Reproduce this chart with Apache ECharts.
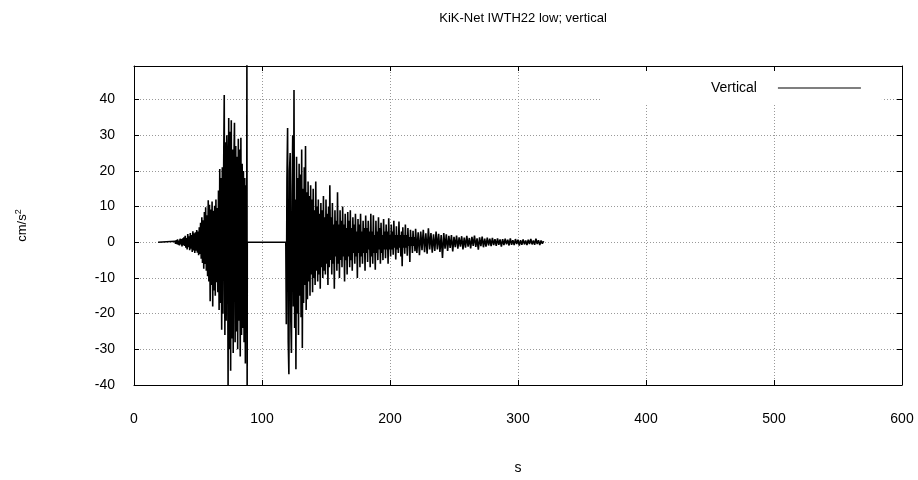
<!DOCTYPE html>
<html>
<head>
<meta charset="utf-8">
<title>KiK-Net IWTH22 low; vertical</title>
<script src="https://cdn.jsdelivr.net/npm/echarts@6/dist/echarts.min.js"></script>
<style>
  html, body { margin: 0; padding: 0; background: #fff; }
  #chart { width: 918px; height: 480px; }
</style>
</head>
<body>
<div id="chart"></div>
<script>
// values (cm/s^2)
const xTicks = [0, 100, 200, 300, 400, 500, 600]
const yTicks = [-40, -30, -20, -10, 0, 10, 20, 30, 40]

// quiet record before the first arrival
const leadIn = [[18.8, 0]]

// first wave train, one sample every 0.5 s from 32 s
const burst1Start = 32
const burst1Step = 0.5
const burst1 = [
  0.3, -0.4, 0.6, -0.5, 0.8, -0.7, 0.5, -0.9, 1.0, -0.6,
  0.9, -1.2, 1.1, -0.8, 1.4, -1.0, 1.8, -1.5, 1.2, -2.0,
  2.3, -1.4, 1.7, -2.2, 2.6, -1.8, 2.0, -2.7, 3.1, -2.3,
  2.5, -3.0, 2.8, -2.4, 3.4, -2.9, 3.0, -3.6, 4.2, -3.3,
  5.5, -4.6, 7.0, -5.8, 6.2, -7.4, 8.5, -6.1, 9.8, -8.0,
  7.6, -9.5, 11.8, -11.0, 10.5, -16.5, 9.2, -12.0, 11.4, -18.0,
  8.8, -13.5, 10.2, -15.0, 12.0, -11.2, 9.6, -14.0, 14.5, -19.0,
  20.5, -17.0, 18.0, -24.5, 21.0, -20.0, 19.0, 41.3, -26.0, 28.0,
  -22.0, 30.0, 22.0, -40.5, 34.8, -30.0, 31.0, -36.0, 34.2, -27.0,
  26.0, -31.0, 22.0, 33.5, -28.0, 27.0, -25.0, 24.0, -30.0, 29.0,
  -22.0, 26.0, -32.0, 29.3, -26.0, 22.0, -24.0, 20.0, -28.0, 18.0,
  -34.0, 16.0, -20.0
]

// clipped glitch at the end of the first record, then a flat gap
const glitch = [[88.2, 55], [88.4, -45]]
const gap = [[88.5, 0], [118.6, 0]]

// second wave train, strong part: one sample every 0.5 s from 119 s
const burst2Start = 119
const burst2Step = 0.5
const burst2 = [
  -23, 18, 32, -28, -37, 20, 25, -22, -31, 14,
  30, -18, 42.7, -24, 12, -35.6, 24, -20, 18, -26,
  22, -15, 19, -21, 26, -29.6, 15, -17, 21, -12,
  27, -19, 14, -16, 17, -11, 13, -15, 16, -9,
  12, -14, 15, -10, 9, -12, 17, -8, 10, -11,
  12, -9, 8, -13, 11, -7, 9, -10, 13, -8,
  7, -9, 12, -6, 8, -12, 10, -7, 16, -5,
  7, -9, 11, -6, 5, -13, 9, -4, 6, -8,
  14, -6, 5, -10, 9, -5, 6, -7, 10, -4,
  5, -11, 8, -5, 4, -9, 8.5, -4, 6, -7,
  9, -5, 4, -8, 7, -3, 5, -6, 8, -4,
  3, -10, 6.5, -3, 5, -7, 8, -4, 3, -6,
  6, -3, 4, -8, 7.5, -3, 4, -5.5, 6, -2,
  3, -7, 8, -4, 3, -6, 7.6, -3, 2, -7.7,
  6, -3, 3, -5, 7, -2, 4, -6, 5.5, -3,
  2, -5, 6.5, -2, 3, -4.5, 5, -2, 3, -6,
  6.7, -2, 2, -4, 5, -2, 3, -3.5, 6, -1.5,
  2, -4.8, 4.5, -2, 2, -3, 5.8, -1.5, 2, -4,
  3, -6.7, 4.2, -1.5, 2, -3.2, 5, -1.5, 2, -3.8,
  4, -1, 1.5, -5.5, 3.5, -1, 1.5, -3, 3.2, -1,
  1.5, -2.5
]

// coda: one sample per second from 220 s
const codaStart = 220
const codaStep = 1
const coda = [
  3.8, -3, 2.8, -3.6, 3, -2.2, 3.5, -2.8, 2.5,
  -3.2, 3.9, -2, 2.6, -2.9, 2.2, -2.4, 3, -2, 2.4,
  -2.7, 2, -4.4, 2.6, -1.8, 2.2, -2.4, 1.8, -1.6, 2,
  -2.6, 1.5, -1.4, 1.9, -1.8, 1.4, -1.2, 1.7, -2, 1.3,
  -1.5, 1.8, -1.2, 1.2, -1.7, 1.5, -1, 1.9, -1.3, 1.1,
  -2.1, 1.4, -1.1, 1.6, -1.4, 1, -1.2, 1.3, -0.9, 1,
  -1.1, 1.2, -0.8, 0.9, -1, 1.1, -0.7, 0.8, -1.2, 0.9,
  -0.8, 1, -0.6, 0.7, -0.9, 1.1, -0.7, 0.6, -0.8, 0.9,
  -0.5, 0.7, -0.9, 0.6, -0.7, 0.8, -0.6, 0.5, -0.8, 0.7,
  -0.5, 0.9, -0.6, 0.5, -0.7, 1, -0.5, 0.6, -0.8, 0.5,
  -0.4, 0.3
]

const yMin = -40
const yMax = 49.4

const trace = [].concat(
  leadIn,
  burst1.map((v, i) => [burst1Start + i * burst1Step, v]),
  glitch,
  gap,
  burst2.map((v, i) => [burst2Start + i * burst2Step, v]),
  coda.map((v, i) => [codaStart + i * codaStep, v])
)

const font = 'Liberation Sans'
const gridLine = { show: true, lineStyle: { color: '#999', width: 1, type: [1, 2] } }
const frame = { show: true, onZero: false, lineStyle: { color: '#000', width: 1 } }
const innerTick = { show: true, inside: true, length: 5, lineStyle: { color: '#000' } }

const chart = echarts.init(document.getElementById('chart'))

chart.setOption({
  animation: false,
  backgroundColor: '#fff',
  title: {
    text: 'KiK-Net IWTH22 low; vertical',
    left: 518,
    top: 7,
    textAlign: 'center',
    textStyle: { fontFamily: font, fontSize: 13, fontWeight: 'normal', color: '#000' },
  },
  legend: {
    data: [{ name: 'Vertical', icon: 'rect' }],
    left: 600,
    top: 67,
    align: 'right',
    itemWidth: 83,
    itemHeight: 1,
    symbolKeepAspect: false,
    backgroundColor: '#fff',
    padding: [14, 21, 8, 111],
    itemStyle: { color: '#000' },
    textStyle: { fontFamily: font, fontSize: 14, color: '#000', padding: [0, 16, 0, 0] },
  },
  grid: { left: 134, right: 16, top: 66, bottom: 92 },
  xAxis: [
    {
      type: 'value',
      position: 'bottom',
      min: xTicks[0],
      max: xTicks[xTicks.length - 1],
      interval: 100,
      name: 's',
      nameLocation: 'middle',
      nameGap: 76,
      nameTextStyle: { fontFamily: font, fontSize: 14, color: '#000' },
      axisLine: frame,
      axisTick: innerTick,
      axisLabel: { fontFamily: font, fontSize: 14, color: '#000', margin: 27 },
      splitLine: gridLine,
    },
    {
      type: 'value',
      position: 'top',
      z: 6,
      min: xTicks[0],
      max: xTicks[xTicks.length - 1],
      interval: 100,
      axisLine: frame,
      axisTick: innerTick,
      axisLabel: { show: false },
      splitLine: { show: false },
    },
  ],
  yAxis: [
    {
      type: 'value',
      position: 'left',
      min: yMin,
      max: yMax,
      interval: 10,
      name: 'cm/s{sup|2}',
      nameLocation: 'middle',
      nameRotate: 90,
      nameGap: 104,
      nameTextStyle: {
        fontFamily: font, fontSize: 13, color: '#000',
        rich: { sup: { fontFamily: font, fontSize: 9, color: '#000', padding: [0, 0, 7, 0] } },
      },
      axisLine: frame,
      axisTick: innerTick,
      axisLabel: {
        fontFamily: font, fontSize: 14, color: '#000', margin: 19,
        showMaxLabel: false,
        formatter: (v) => (yTicks.includes(v) ? String(v) : ''),
      },
      splitLine: gridLine,
    },
    {
      type: 'value',
      position: 'right',
      min: yMin,
      max: yMax,
      interval: 10,
      axisLine: frame,
      axisTick: innerTick,
      axisLabel: { show: false },
      splitLine: { show: false },
    },
  ],
  series: [
    {
      name: 'Vertical',
      type: 'line',
      xAxisIndex: 0,
      yAxisIndex: 0,
      symbol: 'none',
      showSymbol: false,
      clip: true,
      lineStyle: { color: '#000', width: 1.6 },
      itemStyle: { color: '#000' },
      data: trace,
    },
  ],
})
</script>
</body>
</html>
